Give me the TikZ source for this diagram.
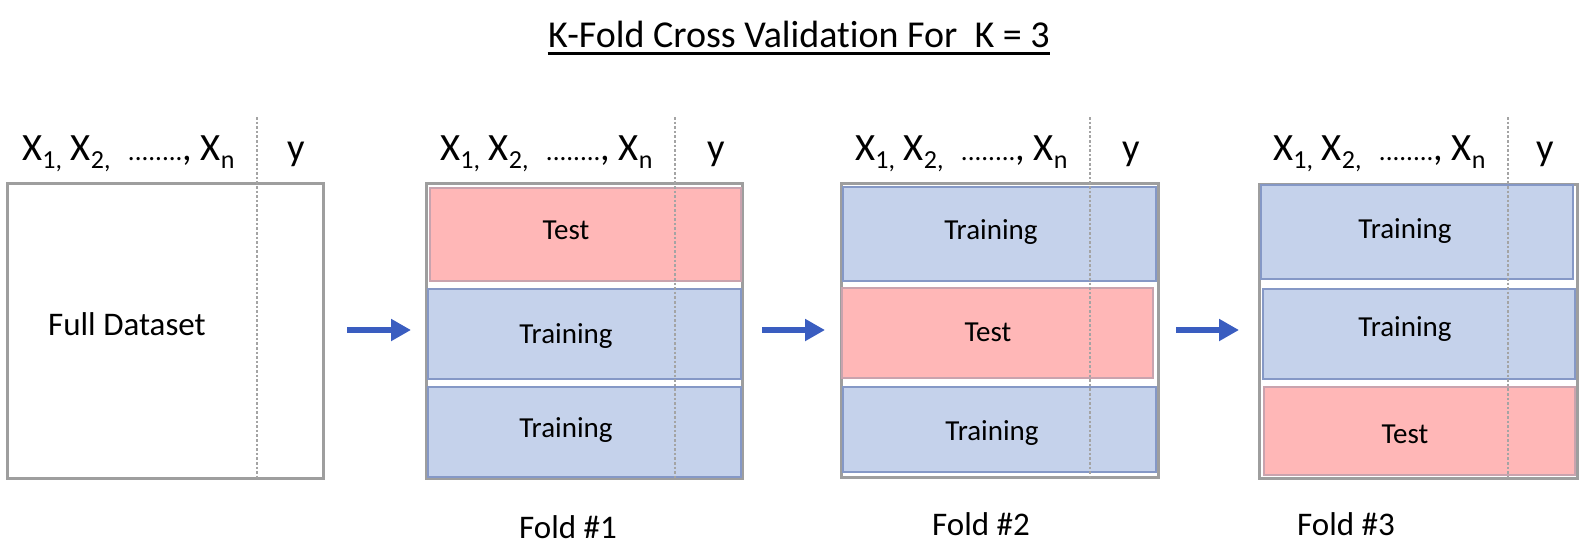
\documentclass[tikz,border=0pt]{standalone}
\usepackage{fontspec}
\setmainfont[Ligatures=NoCommon]{Carlito}
\usetikzlibrary{arrows.meta}
\definecolor{testfill}{HTML}{FFB7B7}
\definecolor{testdraw}{HTML}{C9A3AE}
\definecolor{trainfill}{HTML}{C5D2EB}
\definecolor{traindraw}{HTML}{8598C6}
\definecolor{outergrey}{HTML}{9E9E9E}
\definecolor{dotgrey}{HTML}{A4A4A4}
\definecolor{arrowblue}{HTML}{3A5DC0}
\newcommand\xsub[1]{\raisebox{-4.4pt}{\fontsize{13}{13}\selectfont #1}}
\newcommand\xhead{X\xsub{1,} X\xsub{2,}\ \ {\fontsize{13.5}{13.5}\selectfont ........},\ X\xsub{n}}
\tikzset{
  outerbox/.style={draw=outergrey, line width=1.5pt, fill=white, anchor=north west, inner sep=0pt, outer sep=0pt},
  testbox/.style={draw=testdraw, line width=1pt, fill=testfill, anchor=north west, inner sep=0pt, outer sep=0pt},
  trainbox/.style={draw=traindraw, line width=1pt, fill=trainfill, anchor=north west, inner sep=0pt, outer sep=0pt},
  sep/.style={draw=dotgrey, line width=1.4pt, dash pattern=on 1.3pt off 1pt},
  blockarrow/.style={draw=arrowblue, line width=3.3pt, -{Triangle[length=10pt,width=10.5pt]}},
  hdr/.style={inner sep=0pt, font=\fontsize{19.3}{22}\selectfont},
  inlbl/.style={inner sep=0pt, anchor=base, font=\fontsize{14.5}{17}\selectfont},
  foldlbl/.style={inner sep=0pt, anchor=base, font=\fontsize{16.5}{19}\selectfont},
}
\begin{document}
\begin{tikzpicture}[x=0.5pt,y=-0.5pt]
\useasboundingbox (0,0) rectangle (1590,554);
% title
\node[inner sep=0pt, anchor=base, font=\fontsize{19}{22}\selectfont] (title) at (799,47) {K-Fold Cross Validation For\ \ K = 3};
\draw[line width=1.5pt] ([yshift=-3pt]title.base west) -- ([yshift=-3pt]title.base east);

% full dataset
\node[outerbox, minimum width=158pt, minimum height=147.5pt] (full) at (7,183) {};
\node[inner sep=0pt, anchor=base, font=\fontsize{16.5}{19}\selectfont] (fulllbl) at (127,335) {Full Dataset};
\coordinate (s0t) at (257,117); \coordinate (s0b) at (257,478);
\draw[sep] (s0t) -- (s0b);
\node[hdr, anchor=base west] (h0x) at (22,160) {\xhead};
\node[hdr, anchor=base] (h0y) at (296,160) {y};

% fold 1
\node[outerbox, minimum width=158pt, minimum height=147.5pt] (f1) at (426,183) {};
\node[testbox, minimum width=155.5pt, minimum height=46.5pt] (f1a) at (430,188) {};
\node[trainbox, minimum width=156.5pt, minimum height=45pt] (f1b) at (428,289) {};
\node[trainbox, minimum width=156.5pt, minimum height=45pt] (f1c) at (428,387) {};
\node[inlbl] (f1al) at (566,239) {Test};
\node[inlbl] (f1bl) at (566,343) {Training};
\node[inlbl] (f1cl) at (566,437) {Training};
\coordinate (s1t) at (675,117); \coordinate (s1b) at (675,478);
\draw[sep] (s1t) -- (s1b);
\node[hdr, anchor=base west] (h1x) at (440,160) {\xhead};
\node[hdr, anchor=base] (h1y) at (716,160) {y};
\node[foldlbl] (fold1) at (568,538) {Fold \#1};

% fold 2
\node[outerbox, minimum width=158.5pt, minimum height=147pt] (f2) at (841,183) {};
\node[trainbox, minimum width=156.5pt, minimum height=47pt] (f2a) at (843,187) {};
\node[testbox, minimum width=155.5pt, minimum height=45pt] (f2b) at (842,288) {};
\node[trainbox, minimum width=156.5pt, minimum height=42.5pt] (f2c) at (843,387) {};
\node[inlbl] (f2al) at (991,239) {Training};
\node[inlbl] (f2bl) at (988,341) {Test};
\node[inlbl] (f2cl) at (992,440) {Training};
\coordinate (s2t) at (1090,117); \coordinate (s2b) at (1090,478);
\draw[sep] (s2t) -- (s2b);
\node[hdr, anchor=base west] (h2x) at (855,160) {\xhead};
\node[hdr, anchor=base] (h2y) at (1131,160) {y};
\node[foldlbl] (fold2) at (981,535) {Fold \#2};

% fold 3
\node[outerbox, minimum width=159pt, minimum height=147pt] (f3) at (1259,184) {};
\node[trainbox, minimum width=156pt, minimum height=47pt] (f3a) at (1261,185) {};
\node[trainbox, minimum width=156pt, minimum height=45pt] (f3b) at (1263,289) {};
\node[testbox, minimum width=155.5pt, minimum height=44pt] (f3c) at (1264,387) {};
\node[inlbl] (f3al) at (1405,238) {Training};
\node[inlbl] (f3bl) at (1405,336) {Training};
\node[inlbl] (f3cl) at (1405,443) {Test};
\coordinate (s3t) at (1508,117); \coordinate (s3b) at (1508,478);
\draw[sep] (s3t) -- (s3b);
\node[hdr, anchor=base west] (h3x) at (1273,160) {\xhead};
\node[hdr, anchor=base] (h3y) at (1545,160) {y};
\node[foldlbl] (fold3) at (1346,535) {Fold \#3};

% arrows
\coordinate (a1s) at (347,330); \coordinate (a1e) at (411,330);
\coordinate (a2s) at (762,330); \coordinate (a2e) at (825,330);
\coordinate (a3s) at (1176,330); \coordinate (a3e) at (1239,330);
\draw[blockarrow] (a1s) -- (a1e);
\draw[blockarrow] (a2s) -- (a2e);
\draw[blockarrow] (a3s) -- (a3e);
\end{tikzpicture}
\end{document}
